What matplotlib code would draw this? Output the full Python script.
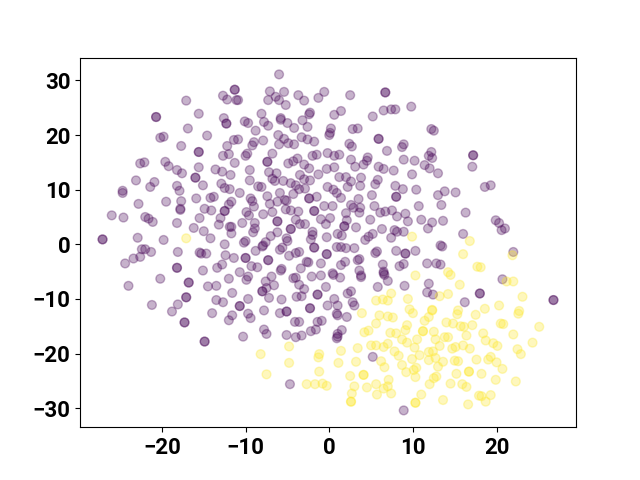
import numpy as np
import matplotlib.pyplot as plt

plt.rcParams['font.family'] = ['Roboto', 'DejaVu Sans']

# class 0 (purple), repeated points are the darker dots
x0 = [-6.0, -11.3, -11.3, -12.7, -12.2, -10.9, -11.1, -17.1, -7.1, -5.4, -3.7, -0.6, -1.3, -3.0, -7.3, -6.4, -6.0, -5.2, -8.1, -2.3, -2.4, -15.6, -20.7, -20.7, -12.6, -12.3, -12.3, -10.1, -9.7, -7.8, -7.3, -5.8, -5.8, -5.0, -4.2, -3.2, -2.6, -16.9, -8.8, -19.8, -20.2, -14.6, -6.1, -5.4, -11.4, -10.9, -7.9, -9.0, -9.2, -3.3, -2.6, -1.8, -6.0, -4.9, -4.2, -12.2, -17.7, -15.6, -15.6, -12.7, -12.0, -9.8, -10.0, -6.8, -2.0, -1.5, -0.2, -22.6, -22.1, -19.6, -19.2, -11.3, -7.4, -7.4, -4.9, -4.3, -3.8, -3.0, -2.4, -15.6, -13.6, -12.8, -11.8, -9.5, -7.2, -6.3, -18.2, -17.6, -0.3, -1.3, -3.5, -3.0, -2.3, -23.1, -16.0, -16.0, -9.5, -6.8, -6.5, -5.5, -4.6, -4.0, -20.9, -21.4, -18.2, -17.9, -15.1, -12.9, -12.5, -11.9, -8.5, -8.1, -3.6, -2.9, -0.2, -24.7, -24.7, -10.7, -5.9, -4.3, -15.9, -14.2, -13.8, -7.4, -1.5, -2.4, -2.4, -19.5, -22.8, -17.7, -11.7, -12.0, -9.4, -9.2, -9.0, -6.2, -5.3, -5.1, -7.1, -0.6, -17.8, -17.8, -14.9, -14.1, -12.5, -12.5, -9.9, -9.6, -7.9, -6.8, -5.2, -4.6, -3.7, -1.8, -1.8, -26.0, -24.6, -22.0, -21.6, -21.1, -18.2, -15.5, -13.0, -13.2, -10.4, -8.9, -6.2, -6.2, -4.0, -3.5, -2.9, -1.0, -0.4, -16.2, -15.0, -11.9, -11.7, -11.7, -8.9, -9.1, -4.6, -4.6, -6.2, -2.0, -2.0, -2.2, -0.3, -27.1, -27.1, -22.9, -19.8, -14.2, -7.0, -5.1, -5.0, -12.5, -10.2, -10.0, -7.9,
      2.5, 6.7, 6.7, 9.8, 6.5, 7.4, 7.9, 1.4, 0.6, 5.2, 2.8, 3.4, 0.2, 0.1, 0.0, 12.2, 12.5, 5.9, 5.9, 8.9, 8.7, 2.4, 2.7, 6.9, 12.2, 11.9, 12.3, 17.2, 17.2, 0.6, 1.2, 2.6, 4.6, 4.5, 4.1, 3.1, 8.9, 10.2, 11.4, 12.0, 13.0, 17.1, 5.9, 6.5, 7.7, 0.6, 9.9, 1.2, 2.0, 2.6, 3.8, 5.8, 5.5, 2.2, 3.7, 0.5, 0.9, 1.4, 7.9, 8.8, 10.4, 18.6, 19.3, 13.8, 13.0, 15.1, 5.1, 8.0, 8.0, 3.5, 2.6, 2.9, 3.7, 3.6, 0.4, 5.4, 10.7, 13.4, 6.1, 6.7, 7.5, 9.1, 8.1, 16.3, 2.0, 0.1, 2.1, 1.8, 1.8, 4.9, 9.4, 11.0, 12.3, 13.6, 19.9, 20.3, 20.6, 21.0, 3.2, 11.8, 6.3, 7.8, 8.1, 8.9, 1.0, 1.5, 5.2, 4.7, 4.3, 7.4, 16.0,
      -22.4, -22.0, -21.3, -22.6, -23.4, -24.4, -18.1, -15.5, -15.3, -14.7, -12.4, -11.4, -10.0, -10.0, -8.8, -8.0, -7.6, -5.9, -5.6, -4.8, -4.0, -3.6, -1.8, -1.8, -0.3, -0.3, -7.3, -7.3, -13.4, -12.8, -9.3, -8.6, -18.2, -18.2, -15.1, -5.7, -5.8, -3.4, -2.7, -2.5, -1.0, -10.7, -9.7, -9.9, -6.9, -7.6, -6.6, -2.1, -1.0, -4.3, -4.0, -3.6, -20.2, -12.0, -16.8, -16.8, -14.5, -13.5, -24.0, -0.4, -7.5, -8.0, -8.0, -3.0, -11.6, -1.4, -1.4, -3.9, -3.3, -17.1, -17.1, -7.2, -5.7, -13.5, -12.7, -9.7, -10.7, -10.7, -18.1, -21.2, -2.3, -2.3, -0.2, -18.8, -7.8, -5.9, -5.1, -5.1, -14.0, -11.6, -12.0, -9.7, -9.4, -4.1, -3.6, -1.4, -0.9, -17.3, -17.3, -7.8, -7.5, -2.2, -1.6, -5.1, -4.0, -3.3, -10.3, -14.9, -14.9, -4.7,
      0.9, 1.4, 2.0, 3.0, 5.7, 5.5, 8.0, 9.1, 9.1, 10.3, 13.3, 13.5, 22.0, 3.6, 3.4, 1.9, 1.4, 6.4, 8.9, 8.4, 11.7, 12.8, 13.3, 3.6, 6.5, 6.6, 6.5, 3.8, 3.8, 0.4, 0.5, 1.3, 7.0, 20.7, 11.9, 9.0, 5.8, 2.6, 2.2, 11.7, 12.4, 18.0, 18.0, 26.8, 26.8, 0.6, 16.2, 2.8, 3.0, 1.0, 0.9, 1.0, 2.1, 1.5, 1.0, 0.9, 1.0, 5.2, 8.9]
y0 = [31.1, 28.3, 28.3, 27.2, 26.5, 26.4, 26.4, 26.3, 28.0, 27.9, 27.3, 27.9, 26.8, 26.3, 26.4, 27.0, 26.4, 25.5, 23.9, 24.1, 23.8, 23.9, 23.3, 23.3, 23.1, 22.1, 22.1, 22.5, 22.2, 22.4, 21.7, 23.1, 22.8, 22.2, 21.3, 22.7, 21.5, 21.2, 20.8, 19.7, 19.5, 19.9, 20.0, 19.3, 19.1, 19.2, 19.0, 18.7, 18.1, 19.6, 19.2, 18.8, 18.3, 18.5, 18.3, 18.0, 18.0, 16.9, 16.9, 16.2, 16.5, 16.6, 16.2, 16.6, 16.2, 16.4, 16.7, 14.8, 15.0, 15.1, 14.3, 14.9, 15.1, 15.1, 14.8, 15.2, 15.7, 14.6, 13.9, 14.1, 13.7, 13.3, 12.7, 13.6, 13.2, 13.0, 13.6, 13.0, 13.8, 12.8, 12.7, 11.9, 11.7, 11.7, 12.2, 12.2, 11.7, 12.0, 11.6, 11.6, 11.2, 10.8, 11.4, 10.5, 10.7, 9.8, 10.8, 11.1, 10.3, 10.1, 10.6, 10.5, 10.1, 10.2, 10.5, 9.8, 9.4, 9.4, 9.4, 9.2, 8.4, 8.5, 8.7, 8.8, 8.7, 8.4, 8.4, 7.8, 7.4, 7.9, 7.8, 7.3, 8.4, 7.9, 6.9, 7.8, 8.1, 8.0, 7.4, 7.0, 6.5, 6.3, 6.5, 6.2, 6.1, 6.1, 5.9, 5.3, 5.5, 5.9, 6.4, 6.2, 6.0, 6.1, 6.1, 5.3, 4.9, 5.0, 4.7, 4.1, 3.9, 4.8, 4.8, 3.6, 3.9, 3.9, 4.2, 4.2, 4.5, 3.7, 3.7, 4.6, 3.7, 3.0, 2.4, 3.2, 3.2, 2.0, 2.9, 2.2, 2.8, 2.8, 2.2, 2.3, 1.7, 0.9, 1.3, 0.9, 0.9, 1.2, 0.8, 1.1, 1.5, 1.1, 0.6, 0.0, 0.3, 0.6, -0.2,
      27.3, 27.8, 27.8, 25.2, 24.5, 24.7, 24.7, 24.4, 23.7, 23.4, 21.1, 21.2, 21.2, 20.4, 20.0, 21.1, 20.8, 19.3, 19.3, 18.3, 17.8, 18.4, 17.9, 17.1, 16.9, 16.2, 15.8, 16.3, 16.3, 16.2, 16.4, 15.5, 15.9, 15.3, 14.6, 14.2, 15.5, 15.3, 14.5, 13.9, 13.0, 14.2, 14.2, 13.8, 13.5, 14.1, 12.8, 12.3, 12.3, 11.5, 12.2, 11.8, 11.0, 10.5, 10.7, 10.0, 9.4, 8.5, 10.7, 10.1, 10.0, 10.5, 10.8, 9.7, 9.0, 9.5, 9.0, 8.7, 8.7, 8.3, 7.2, 6.7, 6.7, 5.8, 7.0, 7.0, 7.0, 7.2, 5.8, 6.0, 6.2, 5.6, 5.1, 5.8, 5.7, 4.8, 4.4, 3.3, 3.3, 4.5, 4.2, 4.5, 4.0, 4.3, 4.4, 3.9, 2.6, 2.9, 3.1, 2.9, 2.8, 2.6, 2.3, 2.3, 1.9, 1.6, 1.9, 1.4, 0.8, 1.2, 1.9,
      -0.9, -0.9, -1.4, -2.3, -2.6, -3.5, -1.4, -1.5, -1.7, -1.7, -2.0, -2.5, -2.5, -2.5, -1.2, -0.4, 0.4, -1.0, -0.6, -2.1, -1.6, -1.4, -0.6, -0.6, -1.8, -1.8, -2.9, -2.9, -4.3, -3.7, -4.0, -4.2, -4.3, -4.3, -4.8, -4.5, -4.8, -4.4, -3.2, -3.3, -3.5, -5.1, -5.9, -6.5, -5.9, -6.8, -7.5, -5.9, -5.7, -6.2, -6.1, -7.4, -6.3, -6.3, -7.0, -7.0, -7.7, -7.6, -7.6, -7.8, -8.0, -8.6, -8.6, -8.2, -8.9, -9.2, -9.2, -9.6, -9.5, -9.7, -9.7, -9.8, -10.1, -10.2, -10.6, -10.0, -11.3, -11.3, -11.0, -11.1, -11.7, -11.7, -11.2, -12.3, -12.1, -12.6, -12.3, -12.3, -12.6, -13.0, -13.9, -12.7, -13.5, -14.2, -14.2, -14.2, -14.0, -14.3, -14.3, -15.6, -16.4, -15.9, -15.6, -16.6, -17.0, -16.7, -16.9, -17.8, -17.8, -25.6,
      -0.5, -0.5, -0.7, -0.7, -1.3, -1.6, -1.2, -1.7, -1.7, -1.2, -0.2, -0.4, -1.4, -2.7, -2.9, -3.2, -3.8, -3.7, -3.6, -4.0, -3.5, -3.5, -3.7, -4.8, -5.0, -5.6, -5.3, -5.7, -6.0, -5.3, -5.6, -6.1, -6.7, -6.4, -7.2, -7.6, -7.8, -8.6, -9.0, -8.8, -9.2, -9.0, -9.0, -10.2, -10.2, -10.0, -10.6, -10.6, -11.2, -11.2, -12.7, -13.0, -13.3, -15.7, -16.4, -17.2, -16.9, -20.6, -30.4]

# class 1 (yellow)
x1 = [-17.1, 9.9, 16.8, -4.8, -8.2, -1.2, -1.3, -4.8, -7.5, -1.2, -2.7, -1.7, -0.8, -0.3,
      16.0, 21.9, 17.7, 18.1, 14.2, 14.5, 10.3, 15.6, 21.2, 22.0, 7.4, 13.2, 14.2, 23.1, 9.4, 5.6, 6.4, 7.0, 20.3, 18.6, 9.6, 10.0, 12.3, 12.3, 15.4, 15.3, 17.5, 22.7, 22.6, 3.9, 6.0, 7.0, 7.6, 11.9, 11.4, 14.0, 14.8, 17.1, 15.7, 16.1, 20.5, 20.8, 5.6, 9.3, 9.1, 4.7, 4.2, 25.1, 11.2, 11.2, 12.5, 7.3, 8.0, 18.4, 22.0, 16.4, 13.8, 14.2, 10.5, 12.7, 8.7, 9.3, 18.7, 19.6, 20.1, 24.3, 5.0, 5.6, 6.5, 7.0, 13.2, 16.0, 15.1, 14.7, 10.2, 16.8, 22.5, 22.9, 1.4, 3.4, 7.8, 8.3, 12.4, 11.9, 12.7, 10.8, 9.9, 11.9, 19.3, 19.0, 17.6, 20.0, 15.0, 15.4, 13.6, 13.0, 1.1, 3.2, 6.2, 6.6, 8.7, 20.7, 10.4, 10.1, 9.2, 10.3, 16.7, 16.7, 15.2, 18.2, 4.1, 4.1, 2.5, 12.8, 12.5, 7.1, 19.9, 22.3, 14.5, 15.9, 16.4, 12.0, 3.0, 4.5, 5.6, 7.0, 6.5, 2.7, 5.7, 7.4, 11.0, 17.9, 18.2, 19.3, 18.7, 13.6, 2.6, 2.6, 10.3, 10.3, 16.6]
y1 = [1.1, 1.4, 0.6, -18.7, -20.1, -20.1, -20.7, -21.7, -23.8, -23.3, -25.6, -25.6, -25.5, -25.9,
      -1.8, -2.0, -4.1, -4.2, -5.1, -5.6, -5.7, -7.4, -6.8, -6.8, -9.0, -9.5, -9.1, -9.6, -10.0, -10.3, -10.1, -10.3, -11.2, -11.8, -11.9, -12.6, -12.0, -12.1, -12.1, -12.8, -12.9, -12.2, -12.7, -12.6, -13.0, -13.2, -13.4, -13.3, -14.0, -14.3, -14.5, -14.8, -15.0, -15.1, -14.5, -14.6, -14.5, -14.8, -15.7, -15.8, -16.1, -15.1, -15.9, -15.9, -16.0, -16.2, -16.3, -16.3, -16.5, -16.7, -17.0, -17.0, -17.4, -17.4, -17.4, -18.0, -17.6, -18.1, -18.6, -18.0, -18.5, -18.5, -18.8, -18.2, -18.6, -18.5, -18.8, -19.1, -18.9, -19.1, -19.2, -20.1, -19.5, -19.0, -19.6, -20.4, -19.6, -19.7, -20.8, -20.3, -21.0, -21.2, -20.6, -21.1, -21.1, -21.6, -21.3, -21.4, -21.5, -22.4, -21.7, -21.5, -21.4, -22.5, -22.1, -22.8, -22.6, -23.0, -23.4, -24.3, -23.3, -23.3, -23.7, -23.7, -23.9, -23.9, -24.1, -24.2, -24.5, -24.8, -24.8, -25.1, -25.5, -25.6, -26.1, -25.6, -26.0, -26.2, -25.6, -26.0, -26.4, -27.3, -27.5, -27.3, -27.5, -27.7, -27.8, -27.6, -28.8, -28.5, -28.8, -28.8, -29.0, -29.0, -29.3]

xs = np.array(x0 + x1)
ys = np.array(y0 + y1)
labels = np.array([0] * len(x0) + [1] * len(x1))

fig, ax = plt.subplots(figsize=(6.4, 4.8), dpi=100)
ax.scatter(xs, ys, c=labels, s=40, alpha=0.3)
ax.tick_params(labelsize=16)
for lab in ax.get_xticklabels() + ax.get_yticklabels():
    lab.set_fontweight('bold')

fig.savefig("out.png", dpi=100)
